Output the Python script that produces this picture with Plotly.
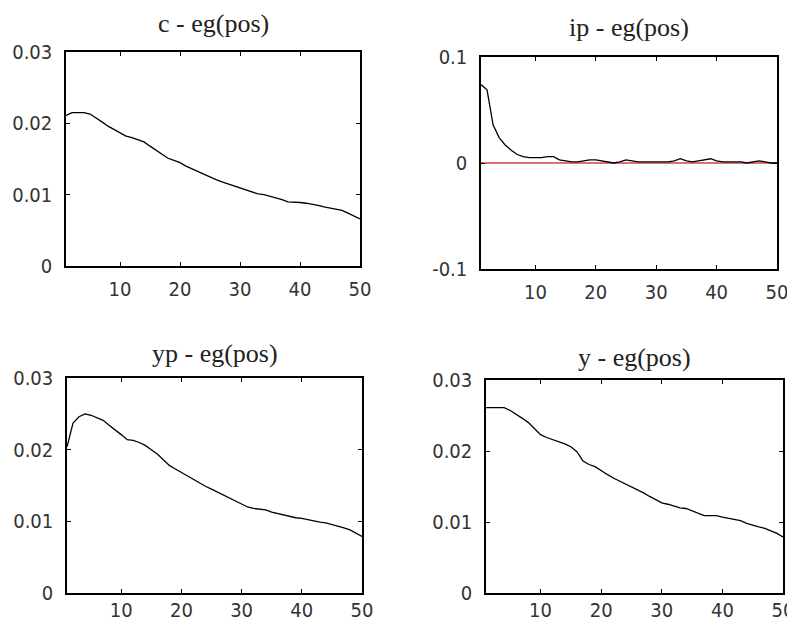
import plotly.graph_objects as go

periods = list(range(1, 51))

c_vals = [0.0211, 0.0215, 0.0215, 0.0215, 0.0213, 0.0208, 0.0202, 0.0196, 0.0191, 0.0186,
          0.0182, 0.0180, 0.0177, 0.0174, 0.0168, 0.0162, 0.0156, 0.0151, 0.0148, 0.0145,
          0.0140, 0.0136, 0.0133, 0.0129, 0.0125, 0.0121, 0.0118, 0.0115, 0.0112, 0.0109,
          0.0106, 0.0104, 0.0101, 0.0100, 0.0098, 0.0095, 0.0093, 0.0090, 0.0090, 0.0089,
          0.0088, 0.0087, 0.0085, 0.0083, 0.0081, 0.0080, 0.0078, 0.0074, 0.0070, 0.0066]

ip_vals = [0.074, 0.069, 0.036, 0.024, 0.017, 0.012, 0.008, 0.006, 0.005, 0.005,
           0.005, 0.006, 0.006, 0.003, 0.002, 0.001, 0.001, 0.002, 0.003, 0.003,
           0.002, 0.001, 0.000, 0.001, 0.003, 0.002, 0.001, 0.001, 0.001, 0.001,
           0.001, 0.001, 0.002, 0.004, 0.002, 0.001, 0.002, 0.003, 0.004, 0.002,
           0.001, 0.001, 0.001, 0.001, 0.000, 0.001, 0.002, 0.001, 0.000, 0.000]

yp_vals = [0.0204, 0.0237, 0.0246, 0.0250, 0.0248, 0.0245, 0.0241, 0.0234, 0.0228, 0.0221,
           0.0214, 0.0213, 0.0210, 0.0206, 0.0200, 0.0194, 0.0186, 0.0178, 0.0173, 0.0168,
           0.0163, 0.0158, 0.0153, 0.0149, 0.0145, 0.0141, 0.0136, 0.0132, 0.0128, 0.0124,
           0.0120, 0.0118, 0.0117, 0.0116, 0.0113, 0.0111, 0.0108, 0.0106, 0.0105, 0.0104,
           0.0102, 0.0101, 0.0099, 0.0098, 0.0096, 0.0093, 0.0091, 0.0088, 0.0084, 0.0079]

y_vals = [0.0261, 0.0261, 0.0261, 0.0261, 0.0257, 0.0252, 0.0246, 0.0240, 0.0231, 0.0223,
          0.0219, 0.0216, 0.0214, 0.0210, 0.0206, 0.0199, 0.0186, 0.0181, 0.0178, 0.0172,
          0.0167, 0.0162, 0.0158, 0.0153, 0.0149, 0.0145, 0.0141, 0.0136, 0.0131, 0.0127,
          0.0125, 0.0122, 0.0120, 0.0119, 0.0116, 0.0112, 0.0109, 0.0109, 0.0109, 0.0107,
          0.0105, 0.0104, 0.0102, 0.0098, 0.0095, 0.0093, 0.0091, 0.0088, 0.0084, 0.0079]

zero_line = [0.0] * 50

titles = ["c - eg(pos)", "ip - eg(pos)", "yp - eg(pos)", "y - eg(pos)"]
x_ticks = [10, 20, 30, 40, 50]
pos_ticks = [0, 0.01, 0.02, 0.03]
pos_labels = ["0", "0.01", "0.02", "0.03"]
ip_ticks = [-0.1, 0, 0.1]
ip_labels = ["-0.1", "0", "0.1"]

# the page body has an 8px margin, so the figure sits 8px in from the top-left
OFF = 8
W, H = 795 - OFF, 623 - OFF
# pixel boxes in screenshot coords: (left, right, top, bottom)
boxes = [(66, 360, 52, 266), (481, 777, 57, 269), (67, 362, 378, 593), (486, 783, 380, 593)]
title_y = [23, 28, 353, 357]
x_standoff = [4, 4, -2, -2]

series = [c_vals, ip_vals, yp_vals, y_vals]
yranges = [[0, 0.03], [-0.1, 0.1], [0, 0.03], [0, 0.03]]
yticks = [(pos_ticks, pos_labels), (ip_ticks, ip_labels), (pos_ticks, pos_labels), (pos_ticks, pos_labels)]

tick_font = dict(family="Liberation Sans Narrow, DejaVu Sans Condensed, Liberation Sans", size=20, color="#333333")
title_font = dict(family="Liberation Serif, DejaVu Serif, serif", size=26, color="#222222")

fig = go.Figure()
layout = dict(width=W, height=H, margin=dict(l=0, r=0, t=0, b=0, autoexpand=False),
              paper_bgcolor="white", plot_bgcolor="white", showlegend=False)
annotations = []
for i, (vals, box) in enumerate(zip(series, boxes)):
    n = "" if i == 0 else str(i + 1)
    l, r, t, b = [v - OFF for v in box]
    xa = "xaxis" + n
    ya = "yaxis" + n
    axis_common = dict(showline=True, linecolor="black", linewidth=1.5, mirror="ticks",
                       ticks="inside", ticklen=4, tickcolor="black", tickwidth=1,
                       showgrid=False, zeroline=False, tickfont=tick_font, automargin=False)
    layout[xa] = dict(domain=[l / W, r / W], range=[1, 50], tickvals=x_ticks,
                      anchor="y" + n, ticklabelstandoff=x_standoff[i], **axis_common)
    layout[ya] = dict(domain=[1 - b / H, 1 - t / H], range=yranges[i],
                      tickvals=yticks[i][0], ticktext=yticks[i][1],
                      anchor="x" + n, ticklabelstandoff=8, **axis_common)
    if i == 1:
        fig.add_trace(go.Scatter(x=periods, y=zero_line, mode="lines",
                                 line=dict(color="#d0404c", width=1.5),
                                 xaxis="x" + n, yaxis="y" + n, hoverinfo="skip"))
    fig.add_trace(go.Scatter(x=periods, y=vals, mode="lines",
                             line=dict(color="black", width=1.3),
                             xaxis="x" + n, yaxis="y" + n))
    annotations.append(dict(text=titles[i], x=(l + r) / 2 / W, y=1 - (title_y[i] - OFF) / H,
                            xref="paper", yref="paper", showarrow=False,
                            xanchor="center", yanchor="middle", font=title_font))

fig.update_layout(**layout, annotations=annotations)
fig.write_html("out.html")
